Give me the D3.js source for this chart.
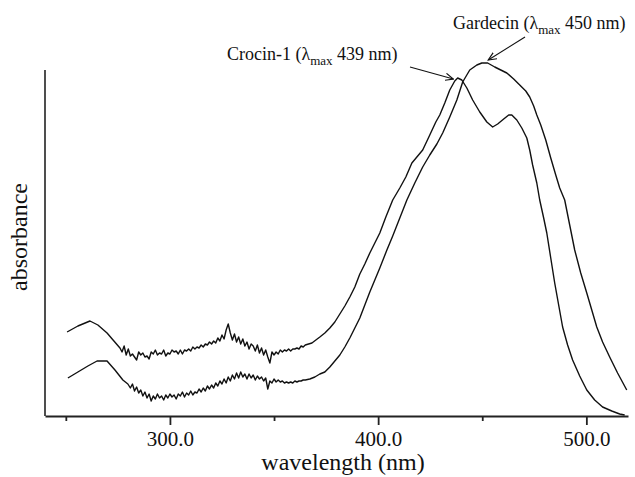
<!DOCTYPE html>
<html>
<head>
<meta charset="utf-8">
<script src="https://cdn.jsdelivr.net/npm/d3@7/dist/d3.min.js"></script>
<style>
  html, body { margin: 0; padding: 0; background: #fff; }
  svg { display: block; }
  text { font-family: "Liberation Serif", "Times New Roman", serif; fill: #111; }
</style>
</head>
<body>
<script>
// ---------- data (wavelength nm, relative absorbance) ----------
const crocin = [
[250.6,0.42],[255.8,0.45],[261.6,0.475],[265.4,0.455],[269.8,0.415],[273.1,0.375],[276,0.34],
[277,0.32],[278,0.35],[279,0.305],[280,0.335],[281,0.30],[282,0.31],[283,0.295],[284,0.28],[285,0.32],[286,0.305],
[287,0.315],[288,0.295],[289,0.30],[290,0.285],[291,0.32],[292,0.31],[293,0.33],[294,0.305],[295,0.315],[296,0.31],
[297,0.33],[298,0.30],[299,0.315],[300,0.31],[301,0.33],[302,0.32],[303,0.325],[304,0.31],[305,0.33],[306,0.31],
[307,0.33],[308,0.325],[309,0.335],[310,0.325],[311,0.345],[312,0.335],[313,0.345],[314,0.34],[315,0.355],[316,0.345],
[317,0.36],[318,0.355],[319,0.37],[320,0.36],[321,0.375],[322,0.365],[323,0.39],[324,0.375],[325,0.405],[326,0.385],
[327,0.43],[328,0.46],[329,0.415],[330,0.38],[331,0.41],[332,0.37],[333,0.395],[334,0.36],[335,0.385],[336,0.35],
[337,0.37],[338,0.335],[339,0.36],[340,0.35],[341,0.325],[342,0.355],[343,0.315],[344,0.34],[345,0.305],[346,0.33],
[347,0.295],[348,0.265],[349,0.32],[350,0.305],[351,0.32],[352,0.31],[353,0.33],[354,0.32],[355,0.33],[356,0.325],
[357,0.335],[358,0.325],[359,0.335],[360,0.335],[361,0.34],[362,0.335],[363,0.35],[364,0.345],[365,0.355],
[368.2,0.365],[370.1,0.38],[372,0.395],[374.4,0.415],[376.8,0.44],[379.2,0.47],[381.6,0.51],[384,0.55],[386.4,0.595],
[388.8,0.645],[391.2,0.71],[393.6,0.76],[396,0.815],[398.4,0.865],[400.8,0.915],[403.7,0.995],[407,1.08],[410.4,1.14],
[413.3,1.195],[416.2,1.265],[419,1.30],[421.4,1.33],[424.8,1.405],[427.7,1.47],[429.6,1.505],[432,1.565],[434.4,1.63],
[436.8,1.675],[438.2,1.69],[440.2,1.68],[442.6,1.64],[445.4,1.58],[448.8,1.52],[452.2,1.47],[455,1.445],[457.4,1.46],
[460.3,1.485],[462.7,1.505],[464.2,1.505],[466.6,1.48],[469,1.44],[471.4,1.39],[472.8,1.33],[474.2,1.255],[476.2,1.165],
[477.6,1.08],[479.5,0.99],[481,0.915],[482.9,0.79],[484.8,0.665],[486.7,0.555],[488.6,0.445],[491,0.355],[493.4,0.28],
[496.8,0.20],[500.2,0.13],[504,0.08],[507.8,0.045],[512.2,0.025],[516,0.01],[518.4,0.005]
];

const gardecin = [
[251,0.19],[255.8,0.22],[260.6,0.25],[265,0.275],[269.8,0.275],[273.6,0.23],[277.4,0.18],[279.8,0.16],
[281,0.14],[282,0.16],[283,0.125],[284,0.145],[285,0.115],[286,0.13],[287,0.10],[288,0.12],[289,0.09],[290,0.11],
[291,0.075],[292,0.10],[293,0.085],[294,0.11],[295,0.09],[296,0.10],[297,0.08],[298,0.105],[299,0.09],[300,0.11],
[301,0.095],[302,0.105],[303,0.085],[304,0.11],[305,0.10],[306,0.12],[307,0.095],[308,0.115],[309,0.105],[310,0.125],
[311,0.105],[312,0.12],[313,0.115],[314,0.135],[315,0.12],[316,0.14],[317,0.125],[318,0.15],[319,0.135],[320,0.155],
[321,0.14],[322,0.165],[323,0.15],[324,0.175],[325,0.16],[326,0.185],[327,0.165],[328,0.195],[329,0.175],[330,0.205],
[331,0.185],[332,0.215],[333,0.19],[334,0.22],[335,0.195],[336,0.21],[337,0.185],[338,0.21],[339,0.19],[340,0.205],
[341,0.18],[342,0.20],[343,0.185],[344,0.195],[345,0.175],[346,0.19],[347,0.135],[348,0.175],[349,0.165],[350,0.185],
[351,0.17],[352,0.18],[353,0.17],[354,0.175],[355,0.165],[356,0.17],[357,0.165],[358,0.17],[359,0.165],[360,0.175],
[361,0.17],[362,0.175],[363,0.175],[364,0.18],[365,0.18],
[367.2,0.185],[369.6,0.195],[372,0.21],[374.4,0.22],[376.8,0.245],[379.2,0.275],[381.6,0.305],[384,0.345],[386.4,0.39],
[388.8,0.44],[391.2,0.49],[393.6,0.555],[396,0.62],[398.4,0.68],[400.8,0.74],[404.2,0.83],[407,0.90],[410.4,0.99],
[413.8,1.08],[417.6,1.165],[421.4,1.245],[424.8,1.305],[428.2,1.36],[431,1.415],[434.4,1.495],[437.8,1.58],[440.6,1.67],
[444,1.73],[447.4,1.755],[449.8,1.765],[452.6,1.765],[456,1.745],[458.9,1.73],[461.8,1.715],[465.1,1.685],[468,1.655],
[470.9,1.625],[472.8,1.595],[474.7,1.55],[476.2,1.505],[478.1,1.455],[480.5,1.38],[482.9,1.29],[485.3,1.205],[487.2,1.14],
[489.6,1.08],[492,0.955],[494.4,0.83],[497.3,0.715],[500.2,0.615],[502.6,0.53],[505,0.445],[507.8,0.37],[511.2,0.295],
[515,0.215],[519.4,0.13]
];

const majorTicks = [300, 400, 500];
const minorTicks = [250, 350, 450];
const tickLabels = ["300.0", "400.0", "500.0"];
const xDomain = [240, 520];
const yDomain = [0, 1.73];

// annotations: label parts, peak wavelength, absorbance at arrow tip
const annotations = [
  { name: "Crocin-1 (\u03BB", sub: "max", rest: " 439 nm)", peak: 439, tipA: 1.685 },
  { name: "Gardecin (\u03BB", sub: "max", rest: " 450 nm)", peak: 450, tipA: 1.78 }
];

// ---------- layout ----------
const W = 635, H = 477;
const svg = d3.select("body").append("svg").attr("width", W).attr("height", H);

const x = d3.scaleLinear().domain(xDomain).range([45, 628]);
const y = d3.scaleLinear().domain(yDomain).range([416, 70]);

const line = d3.line().x(d => x(d[0])).y(d => y(d[1]));

// y axis (no ticks)
svg.append("line").attr("x1", x(xDomain[0])).attr("x2", x(xDomain[0]))
  .attr("y1", y(yDomain[1])).attr("y2", y(0))
  .attr("stroke", "#222").attr("stroke-width", 1.6);

// x axis
const xAxisMajor = d3.axisBottom(x).tickValues(majorTicks)
  .tickFormat((d, i) => tickLabels[i]).tickSize(9).tickPadding(6).tickSizeOuter(0);
const gx = svg.append("g").attr("transform", `translate(0,${y(0)})`).call(xAxisMajor);
gx.select(".domain").attr("stroke", "#222").attr("stroke-width", 1.8);
gx.selectAll(".tick line").attr("stroke", "#222").attr("stroke-width", 1.8);
gx.selectAll(".tick text").attr("font-size", 21).attr("font-family", "Liberation Serif").attr("fill", "#111");

const xAxisMinor = d3.axisBottom(x).tickValues(minorTicks).tickFormat("").tickSize(5).tickSizeOuter(0);
const gxm = svg.append("g").attr("transform", `translate(0,${y(0)})`).call(xAxisMinor);
gxm.select(".domain").remove();
gxm.selectAll(".tick line").attr("stroke", "#222").attr("stroke-width", 1.8);

// axis titles
svg.append("text").attr("x", 343).attr("y", 470).attr("text-anchor", "middle")
  .attr("font-size", 24).text("wavelength (nm)");
svg.append("text").attr("transform", "translate(27,237) rotate(-90)")
  .attr("text-anchor", "middle").attr("font-size", 24).text("absorbance");

// spectra
[crocin, gardecin].forEach(s => {
  svg.append("path").datum(s).attr("d", line)
    .attr("fill", "none").attr("stroke", "#111").attr("stroke-width", 1.4)
    .attr("stroke-linejoin", "round");
});

// arrowhead marker
svg.append("defs").append("marker").attr("id", "arr")
  .attr("viewBox", "0 0 10 10").attr("refX", 9).attr("refY", 5)
  .attr("markerWidth", 9).attr("markerHeight", 9).attr("markerUnits", "userSpaceOnUse")
  .attr("orient", "auto")
  .append("path").attr("d", "M0,1 L9,5 L0,9").attr("fill", "none")
  .attr("stroke", "#111").attr("stroke-width", 1.3);

// annotation text + arrows
const annPos = [
  { tx: 227, ty: 60, ax: 410, ay: 67, hx: -6 },
  { tx: 453, ty: 29, ax: 525, ay: 37, hx: 6 }
];
annotations.forEach((a, i) => {
  const p = annPos[i];
  const t = svg.append("text").attr("x", p.tx).attr("y", p.ty).attr("font-size", 18);
  t.append("tspan").text(a.name);
  t.append("tspan").attr("font-size", 13).attr("dy", 5).text(a.sub);
  t.append("tspan").attr("dy", -5).text(a.rest);
  svg.append("line").attr("x1", p.ax).attr("y1", p.ay)
    .attr("x2", x(a.peak) + p.hx).attr("y2", y(a.tipA))
    .attr("stroke", "#111").attr("stroke-width", 1.1).attr("marker-end", "url(#arr)");
});
</script>
</body>
</html>
